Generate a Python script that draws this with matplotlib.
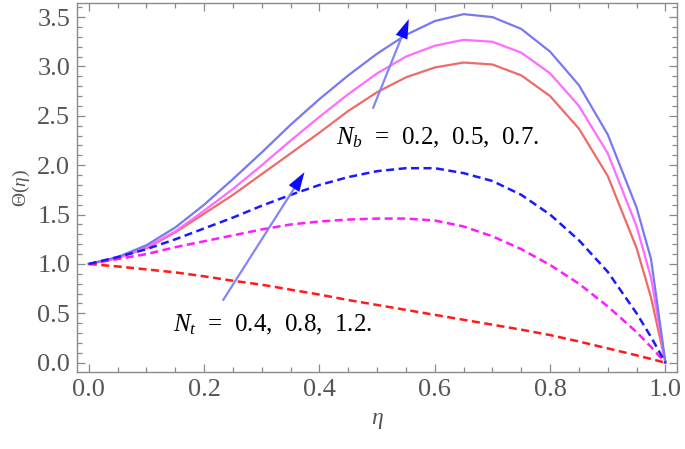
import matplotlib
matplotlib.use("Agg")
import matplotlib.pyplot as plt
from matplotlib.ticker import MultipleLocator

# eta grid and temperature profiles
eta = [0.0, 0.05, 0.1, 0.15, 0.2, 0.25, 0.3, 0.35, 0.4, 0.45, 0.5,
       0.55, 0.6, 0.65, 0.7, 0.75, 0.8, 0.85, 0.9, 0.95, 0.975, 1.0]

# solid curves: N_b = 0.2, 0.5, 0.7
nb_02 = [1.0, 1.06, 1.16, 1.32, 1.51, 1.70, 1.91, 2.12, 2.33, 2.55, 2.74,
         2.89, 2.99, 3.04, 3.02, 2.91, 2.70, 2.37, 1.89, 1.16, 0.66, 0.0]
nb_05 = [1.0, 1.06, 1.17, 1.33, 1.54, 1.76, 2.00, 2.25, 2.49, 2.72, 2.93,
         3.10, 3.21, 3.27, 3.25, 3.14, 2.93, 2.60, 2.12, 1.38, 0.86, 0.0]
nb_07 = [1.0, 1.07, 1.19, 1.37, 1.60, 1.86, 2.13, 2.41, 2.67, 2.91, 3.13,
         3.32, 3.46, 3.53, 3.50, 3.38, 3.15, 2.81, 2.31, 1.57, 1.05, 0.0]

# dashed curves: N_t = 0.4, 0.8, 1.2
nt_04 = [1.0, 0.975, 0.945, 0.915, 0.875, 0.83, 0.79, 0.74, 0.69, 0.635, 0.585,
         0.535, 0.485, 0.435, 0.385, 0.335, 0.28, 0.215, 0.145, 0.075, 0.038, 0.0]
nt_08 = [1.0, 1.05, 1.10, 1.17, 1.23, 1.29, 1.35, 1.40, 1.43, 1.45, 1.46,
         1.46, 1.44, 1.38, 1.28, 1.15, 0.99, 0.80, 0.57, 0.31, 0.16, 0.0]
nt_12 = [1.0, 1.07, 1.15, 1.25, 1.36, 1.47, 1.59, 1.70, 1.80, 1.88, 1.94,
         1.97, 1.97, 1.92, 1.84, 1.70, 1.50, 1.24, 0.92, 0.50, 0.26, 0.0]

nb_label = r"$N_b$  =  0.2,  0.5,  0.7."
nt_label = r"$N_t$  =  0.4,  0.8,  1.2."

# annotation anchors (data coords)
NB_TAIL, NB_HEAD = (0.493, 2.58), (0.555, 3.48)
NT_TAIL, NT_HEAD = (0.233, 0.635), (0.374, 1.93)

plt.rcParams["font.family"] = ["Liberation Serif", "DejaVu Serif"]
plt.rcParams["mathtext.fontset"] = "custom"
plt.rcParams["mathtext.rm"] = "Liberation Serif"
plt.rcParams["mathtext.it"] = "Liberation Serif:italic"

GRAY = "#8a8a8a"
LABEL = "#555555"

fig = plt.figure(figsize=(6.85, 4.49), dpi=100)
ax = fig.add_axes([0.1128, 0.1708, 0.8755, 0.8219])

solid = dict(lw=1.6, solid_joinstyle="round")
dash = dict(lw=1.8, dashes=(3.2, 1.8), dash_joinstyle="round")
ax.plot(eta, nb_02, color="#f06a6a", **solid)
ax.plot(eta, nb_05, color="#ff6cff", **solid)
ax.plot(eta, nb_07, color="#7878f2", **solid)
ax.plot(eta, nt_04, color="#ff1a1a", **dash)
ax.plot(eta, nt_08, color="#ff1aff", **dash)
ax.plot(eta, nt_12, color="#1a1aff", **dash)


def arrow(tail, head):
    ax.annotate("", xy=head, xytext=tail,
                arrowprops=dict(arrowstyle="-", color="#8585f5", lw=1.6,
                                shrinkA=0, shrinkB=4))
    mid = (tail[0] + 0.8 * (head[0] - tail[0]), tail[1] + 0.8 * (head[1] - tail[1]))
    ax.annotate("", xy=head, xytext=mid,
                arrowprops=dict(arrowstyle="-|>,head_length=1.4,head_width=0.45",
                                color="#0a0aff", lw=0, shrinkA=0, shrinkB=0))


arrow(NB_TAIL, NB_HEAD)
arrow(NT_TAIL, NT_HEAD)

ax.text(0.429, 2.28, nb_label, fontsize=18, va="center", ha="left")
ax.text(0.146, 0.38, nt_label, fontsize=18, va="center", ha="left")

ax.set_xlim(-0.02, 1.02)
ax.set_ylim(-0.097, 3.64)
ax.xaxis.set_major_locator(MultipleLocator(0.2))
ax.xaxis.set_minor_locator(MultipleLocator(0.05))
ax.yaxis.set_major_locator(MultipleLocator(0.5))
ax.yaxis.set_minor_locator(MultipleLocator(0.1))
ax.xaxis.set_major_formatter(plt.FormatStrFormatter("%.1f"))
ax.yaxis.set_major_formatter(plt.FormatStrFormatter("%.1f"))

ax.tick_params(which="both", direction="in", top=True, right=True,
               color=GRAY, width=0.9)
ax.tick_params(which="major", length=6, labelsize=19, labelcolor=LABEL, pad=5)
ax.tick_params(which="minor", length=3.5)
for sp in ax.spines.values():
    sp.set_color(GRAY)
    sp.set_linewidth(1.0)

ax.set_xlabel(r"$\eta$", fontsize=17, color=LABEL, labelpad=6)
ax.set_ylabel(r"$\Theta(\eta)$", fontsize=14, color=LABEL, labelpad=4)

fig.savefig("out.png", dpi=100)
